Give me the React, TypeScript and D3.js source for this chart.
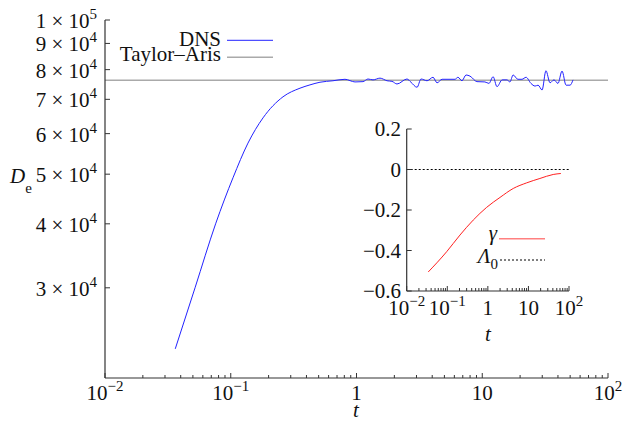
import React from "react";
import * as d3 from "d3";

// DNS effective diffusivity vs t
const dnsT = [0.0362, 0.052, 0.0758, 0.1042, 0.1371, 0.1805, 0.2603, 0.3554, 0.4266, 0.5125, 0.65, 0.81, 0.973, 1.126, 1.234, 1.353, 1.538, 1.748, 1.915, 2.099, 2.52, 2.71, 3.03, 3.26, 3.64, 4.06, 4.37, 4.79, 6.07, 6.41, 6.9, 7.43, 7.99, 9.08, 10.5, 11.3, 12.2, 13.1, 14.4, 15.7, 16.6, 17.6, 19.2, 20.7, 22.3, 24.4, 26.3, 27.8, 29.9, 32.1, 34.6, 37.2, 40.0, 43.1, 46.4, 49.9, 52.7];
const dnsD = [22800, 30000, 40000, 49200, 57500, 64400, 70800, 73600, 74700, 75600, 76100, 76600, 75700, 75800, 76700, 76400, 77000, 76100, 75900, 75000, 76700, 75600, 73900, 76700, 76100, 77300, 75400, 76600, 76600, 77300, 76100, 78100, 77700, 75800, 75700, 75200, 77500, 74100, 76400, 76400, 75700, 78100, 76600, 76600, 77300, 75200, 74300, 74600, 73000, 79600, 75400, 76400, 75200, 79500, 74600, 74600, 76400];
const taylorAris = 76300;

// Inset: gamma vs t
const gamT = [0.034, 0.0966, 0.2056, 0.4365, 0.933, 1.99, 4.23, 9.03, 19.2, 40.8, 63];
const gamV = [-0.506, -0.406, -0.3237, -0.2497, -0.187, -0.138, -0.0936, -0.066, -0.0443, -0.0246, -0.0197];
const lambda0 = 0;

const yTickMant = [3, 4, 5, 6, 7, 8, 9, 1];
const yTickExp = [4, 4, 4, 4, 4, 4, 4, 5];
const xTickVals = [0.01, 0.1, 1, 10, 100];
const xTickBase = ["10", "10", "1", "10", "10"];
const xTickSup = ["\u22122", "\u22121", "", "", "2"];
const insetYTicks = [0.2, 0, -0.2, -0.4, -0.6];
const insetYLabels = ["0.2", "0", "\u22120.2", "\u22120.4", "\u22120.6"];

const AX = "#333";
const F = { fontFamily: `"Liberation Serif"` };

function minorTicks(lo: number, hi: number): number[] {
  const out: number[] = [];
  for (let e = Math.log10(lo); e < Math.log10(hi); e++) {
    for (let m = 2; m <= 9; m++) out.push(m * Math.pow(10, e));
  }
  return out;
}

export default function App() {
  const x = d3.scaleLog().domain([0.01, 100]).range([105, 608]);
  const y = d3.scaleLog().domain([2e4, 1e5]).range([378, 20]);
  const xi = d3.scaleLog().domain([0.01, 100]).range([406.7, 569]);
  const yi = d3.scaleLinear().domain([-0.6, 0.2]).range([291, 129]);

  const dnsLine = d3
    .line<number>()
    .x((_, i) => x(dnsT[i]))
    .y((d) => y(d))
    .curve(d3.curveMonotoneX)(dnsD)!;
  const gamLine = d3
    .line<number>()
    .x((_, i) => xi(gamT[i]))
    .y((d) => yi(d))
    .curve(d3.curveMonotoneX)(gamV)!;

  const minors = minorTicks(0.01, 100);
  const y0 = y.range()[0];
  const x0 = x.range()[0];
  const yi0 = yi.range()[0];
  const xi0 = xi.range()[0];

  return (
    <svg width={626} height={421} style={{ position: "absolute", left: 0, top: 0 }}>
      <line x1={x(0.01)} x2={x(100)} y1={y(taylorAris)} y2={y(taylorAris)} stroke="#aaa" strokeWidth={1.5} />
      <path d={dnsLine} fill="none" stroke="#2222ff" strokeWidth={1} />

      <line x1={x0} x2={x0} y1={y(1e5)} y2={y0} stroke={AX} strokeWidth={1.2} />
      <line x1={x0} x2={x(100)} y1={y0} y2={y0} stroke={AX} strokeWidth={1.2} />
      {yTickMant.map((m, i) => {
        const v = m * Math.pow(10, yTickExp[i]);
        const py = y(v);
        return (
          <g key={"yt" + i}>
            <line x1={x0} x2={x0 + 5} y1={py} y2={py} stroke={AX} />
            <text x={97} y={py + 8} fontSize={21} textAnchor="end" fill="#111" style={F}>
              {m} {"\u00d7"} 10
              <tspan fontSize={15} dy={-9}>{yTickExp[i]}</tspan>
            </text>
          </g>
        );
      })}
      {xTickVals.map((v, i) => (
        <g key={"xt" + i}>
          <line x1={x(v)} x2={x(v)} y1={y0} y2={y0 - 5} stroke={AX} />
          <text x={x(v)} y={y0 + 22} fontSize={21} textAnchor="middle" fill="#111" style={F}>
            {xTickBase[i]}
            {xTickSup[i] && <tspan fontSize={15} dy={-9}>{xTickSup[i]}</tspan>}
          </text>
        </g>
      ))}
      {minors.map((v, i) => (
        <line key={"xm" + i} x1={x(v)} x2={x(v)} y1={y0} y2={y0 - 3} stroke={AX} />
      ))}
      <text x={356} y={417} fontSize={21} fontStyle="italic" textAnchor="middle" fill="#111" style={F}>t</text>
      <text x={10} y={183} fontSize={21} fill="#111" style={F}>
        <tspan fontStyle="italic">D</tspan>
        <tspan fontSize={15} dy={10}>e</tspan>
      </text>

      <text x={221} y={46} fontSize={21} textAnchor="end" fill="#111" style={F}>DNS</text>
      <line x1={227} x2={273} y1={40.3} y2={40.3} stroke="#2222ff" strokeWidth={1} />
      <text x={221} y={61} fontSize={21} textAnchor="end" fill="#111" style={F}>Taylor{"\u2013"}Aris</text>
      <line x1={227} x2={273} y1={57.3} y2={57.3} stroke="#aaa" strokeWidth={1.5} />

      <line x1={xi(0.01)} x2={xi(100)} y1={yi(lambda0)} y2={yi(lambda0)} stroke="#000" strokeWidth={1} strokeDasharray="2,2" />
      <path d={gamLine} fill="none" stroke="#ff2020" strokeWidth={1} />
      <line x1={xi0} x2={xi0} y1={yi(0.2)} y2={yi0} stroke={AX} strokeWidth={1.2} />
      <line x1={xi0} x2={xi(100)} y1={yi0} y2={yi0} stroke={AX} strokeWidth={1.2} />
      {insetYTicks.map((v, i) => (
        <g key={"iy" + i}>
          <line x1={xi0} x2={xi0 + 5} y1={yi(v)} y2={yi(v)} stroke={AX} />
          <text x={401} y={yi(v) + 7} fontSize={21} textAnchor="end" fill="#111" style={F}>{insetYLabels[i]}</text>
        </g>
      ))}
      {xTickVals.map((v, i) => (
        <g key={"ix" + i}>
          <line x1={xi(v)} x2={xi(v)} y1={yi0} y2={yi0 - 5} stroke={AX} />
          <text x={xi(v)} y={yi0 + 24} fontSize={21} textAnchor="middle" fill="#111" style={F}>
            {xTickBase[i]}
            {xTickSup[i] && <tspan fontSize={15} dy={-9}>{xTickSup[i]}</tspan>}
          </text>
        </g>
      ))}
      {minors.map((v, i) => (
        <line key={"im" + i} x1={xi(v)} x2={xi(v)} y1={yi0} y2={yi0 - 3} stroke={AX} />
      ))}
      <text x={488} y={341} fontSize={21} fontStyle="italic" textAnchor="middle" fill="#111" style={F}>t</text>

      <text x={497} y={240} fontSize={21} fontStyle="italic" textAnchor="end" fill="#111" style={F}>{"\u03b3"}</text>
      <line x1={499} x2={545} y1={238.7} y2={238.7} stroke="#ff8080" strokeWidth={1.5} />
      <text x={498} y={262.7} fontSize={21} textAnchor="end" fill="#111" style={F}>
        <tspan fontStyle="italic">{"\u039b"}</tspan>
        <tspan fontSize={15} dy={6}>0</tspan>
      </text>
      <line x1={500} x2={545} y1={260} y2={260} stroke="#000" strokeWidth={1} strokeDasharray="2,2" />
    </svg>
  );
}
